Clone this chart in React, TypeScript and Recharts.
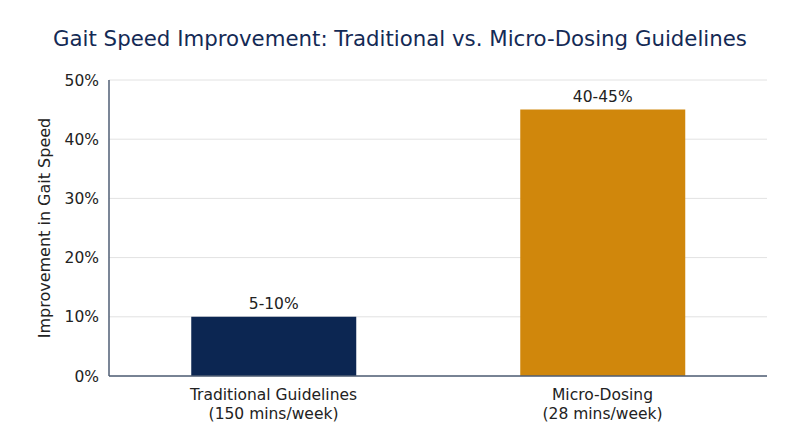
import React from "react";
import { BarChart, Bar, XAxis, YAxis, CartesianGrid, LabelList, Cell } from "recharts";

const categories = ["Traditional Guidelines|(150 mins/week)", "Micro-Dosing|(28 mins/week)"];
const values = [10, 45];
const valueLabels = ["5-10%", "40-45%"];
const barColors = ["#0c2652", "#d0870c"];
const yTicks = [0, 10, 20, 30, 40, 50];

const data = categories.map((c, i) => ({ name: c, value: values[i], label: valueLabels[i] }));

const FONT = "'DejaVu Sans', sans-serif";

const XTick = (props: any) => {
  const { x, y, payload } = props;
  const lines = String(payload.value).split("|");
  return (
    <g transform={`translate(${x},${y})`}>
      {lines.map((l, i) => (
        <text key={i} x={0} y={0} dy={16 + i * 18.5} textAnchor="middle" fill="#222" fontSize={15.5} fontFamily={FONT}>
          {l}
        </text>
      ))}
    </g>
  );
};

export default function App() {
  return (
    <div style={{ position: "absolute", left: 0, top: 0, width: 800, height: 447, background: "#fff" }}>
      <div
        style={{
          position: "absolute",
          left: 0,
          top: 25,
          width: 800,
          textAlign: "center",
          fontFamily: FONT,
          fontSize: 21.3,
          color: "#142a55",
          lineHeight: "28px",
        }}
      >
        Gait Speed Improvement: Traditional vs. Micro-Dosing Guidelines
      </div>
      <BarChart width={800} height={447} data={data} margin={{ top: 80, right: 33, bottom: 11, left: 50 }} barCategoryGap="25%">
        <CartesianGrid vertical={false} stroke="#e2e2e2" />
        <XAxis
          dataKey="name"
          height={60}
          tick={<XTick />}
          tickLine={false}
          axisLine={{ stroke: "#4f5e75", strokeWidth: 1.5 }}
          interval={0}
        />
        <YAxis
          width={59}
          domain={[0, 50]}
          ticks={yTicks}
          tickFormatter={(v: number) => `${v}%`}
          tickLine={false}
          axisLine={{ stroke: "#4f5e75", strokeWidth: 1.5 }}
          tick={{ fill: "#222", fontSize: 15.5, fontFamily: FONT }}
          tickMargin={4}
          label={{
            value: "Improvement in Gait Speed",
            angle: -90,
            position: "insideLeft",
            dx: -11,
            style: { textAnchor: "middle", fill: "#222", fontSize: 16, fontFamily: FONT },
          }}
        />
        <Bar dataKey="value" isAnimationActive={false}>
          {data.map((d, i) => (
            <Cell key={i} fill={barColors[i]} />
          ))}
          <LabelList dataKey="label" position="top" offset={8} fill="#222" fontSize={15.5} fontFamily={FONT} />
        </Bar>
      </BarChart>
    </div>
  );
}
